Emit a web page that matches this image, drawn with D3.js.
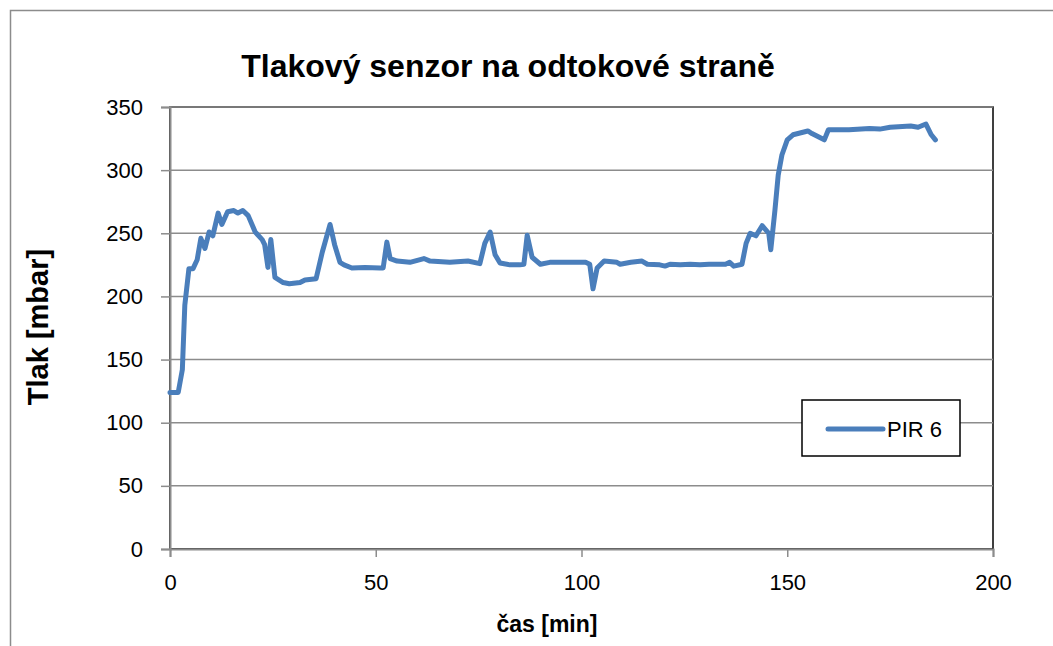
<!DOCTYPE html>
<html lang="cs">
<head>
    <meta charset="UTF-8">
    <title>Tlakový senzor</title>
    <style>
        body{
            margin:0;
            background:#fff;
        }
        svg text{
            font-family:"Liberation Sans", Arial, sans-serif;
        }
    </style>
    <script src="https://cdn.jsdelivr.net/npm/d3@7/dist/d3.min.js"></script>
</head>
<body>
<div id="container"></div>
<script>

var w = 1053;
var h = 646;

// cas [min]
var time = [0, 2, 3, 3.6, 4.6, 5.6, 6.6, 7.5, 8.5, 9.5, 10.4, 11.7, 12.6, 14, 15.5, 16.5, 17.7, 19,
    20.7, 22.4, 23, 23.8, 24.5, 25.5, 27.5, 29, 31.6, 32.8, 35.5, 37, 38.9, 40, 41.3, 42.3, 44.2,
    47.4, 51, 51.8, 52.7, 53.5, 55.2, 58.3, 61.7, 63.2, 68, 72.4, 75.3, 76.5, 77.8, 79, 80.2,
    82.6, 85, 86, 86.8, 88, 90, 92.3, 97, 101, 102, 102.8, 103.8, 105.5, 108.6, 109.4, 112,
    114.7, 116, 119, 120.3, 121.5, 124, 126.4, 128.8, 131, 135, 136, 137, 139, 140, 141, 142.4,
    143.9, 145.5, 146, 147, 147.8, 148.7, 150, 151.4, 155, 156, 159, 160, 165, 170, 172.5, 175,
    180, 181.8, 183.7, 185, 186];
// PIR 6 tlak [mbar]
var pir6 = [124, 124, 142, 193, 222, 222, 229, 246, 238, 251, 248, 266, 257, 267, 268, 266, 268, 264,
    251, 245, 241, 223, 245, 215, 211, 210, 211, 213, 214, 235, 257, 241, 227, 225, 222.5,
    223, 222.5, 222.5, 243, 230, 228, 227, 230, 228, 227, 228, 226, 242, 251, 233, 226.5,
    225, 225, 225.5, 248.5, 231, 225.5, 227, 227, 227, 225.5, 206, 222.5, 228, 227, 225.5, 227,
    228, 225.5, 225, 224, 225.5, 225, 225.5, 225, 225.5, 225.5, 227, 224, 225.5, 242, 250, 248,
    256, 250, 237, 268, 296, 312, 324, 328, 331, 329, 324, 332, 332, 333, 332.5, 334,
    335, 334, 336.5, 328, 324];

var xTicks = [0, 50, 100, 150, 200];
var yTicks = [0, 50, 100, 150, 200, 250, 300, 350];

var margin = {left: 170, top: 107, right: 60, bottom: 97};
var pw = w - margin.left - margin.right;
var ph = h - margin.top - margin.bottom;

var xScale = d3.scaleLinear().domain([0, 200]).range([0, pw]);
var yScale = d3.scaleLinear().domain([0, 350]).range([ph, 0]);

var svg = d3.select("#container")
        .append("svg")
        .attr("width", w)
        .attr("height", h);

//outer chart border
svg.append("rect")
        .attr("x", 10.5).attr("y", 10.5)
        .attr("width", 1100).attr("height", 700)
        .attr("fill", "none")
        .attr("stroke", "#8c8c8c")
        .attr("stroke-width", 1.5);

svg.append("text")
        .attr("x", 508).attr("y", 77)
        .attr("text-anchor", "middle")
        .attr("font-size", "32px")
        .attr("font-weight", "bold")
        .text("Tlakový senzor na odtokové straně");

var g = svg.append("g")
        .attr("transform", "translate(" + margin.left + "," + margin.top + ")");

//plot area border (top, right)
g.append("rect")
        .attr("width", pw).attr("height", ph)
        .attr("fill", "none")
        .attr("stroke", "#000")
        .attr("stroke-width", 1.5);

//gridlines
g.selectAll(".grid")
        .data(yTicks.filter(function (d) { return d > 0; }))
        .enter()
        .append("line")
        .attr("x1", 0).attr("x2", pw)
        .attr("y1", function (d) { return yScale(d); })
        .attr("y2", function (d) { return yScale(d); })
        .attr("stroke", "#8c8c8c")
        .attr("stroke-width", 1.5);

var yAxis = g.append("g")
        .call(d3.axisLeft(yScale).tickValues(yTicks).tickSize(9).tickPadding(18));
var xAxis = g.append("g")
        .attr("transform", "translate(0," + ph + ")")
        .call(d3.axisBottom(xScale).tickValues(xTicks).tickSize(8).tickPadding(17));

[yAxis, xAxis].forEach(function (a) {
    a.select(".domain").attr("stroke", "#8c8c8c").attr("stroke-width", 2);
    a.selectAll(".tick line").attr("stroke", "#8c8c8c").attr("stroke-width", 1.5);
    a.selectAll(".tick text")
            .attr("font-family", "Liberation Sans, Arial, sans-serif")
            .attr("font-size", "22px")
            .attr("fill", "#000");
});

//data line
var line = d3.line()
        .x(function (d, i) { return xScale(time[i]); })
        .y(function (d) { return yScale(d); });

g.append("path")
        .datum(pir6)
        .attr("d", line)
        .attr("fill", "none")
        .attr("stroke", "#4a7ebb")
        .attr("stroke-width", 5)
        .attr("stroke-linejoin", "round")
        .attr("stroke-linecap", "round");

//axis titles
svg.append("text")
        .attr("x", 547).attr("y", 632)
        .attr("text-anchor", "middle")
        .attr("font-size", "23px")
        .attr("font-weight", "bold")
        .text("čas [min]");

svg.append("text")
        .attr("transform", "translate(48,327) rotate(-90)")
        .attr("text-anchor", "middle")
        .attr("font-size", "29px")
        .attr("font-weight", "bold")
        .text("Tlak [mbar]");

//legend
var legend = svg.append("g").attr("transform", "translate(802,400)");
legend.append("rect")
        .attr("width", 158).attr("height", 56)
        .attr("fill", "#fff")
        .attr("stroke", "#000")
        .attr("stroke-width", 1.5);
legend.append("line")
        .attr("x1", 26).attr("x2", 81)
        .attr("y1", 29).attr("y2", 29)
        .attr("stroke", "#4a7ebb")
        .attr("stroke-width", 5)
        .attr("stroke-linecap", "round");
legend.append("text")
        .attr("x", 85).attr("y", 37)
        .attr("font-size", "22px")
        .text("PIR 6");

</script>
</body>
</html>
